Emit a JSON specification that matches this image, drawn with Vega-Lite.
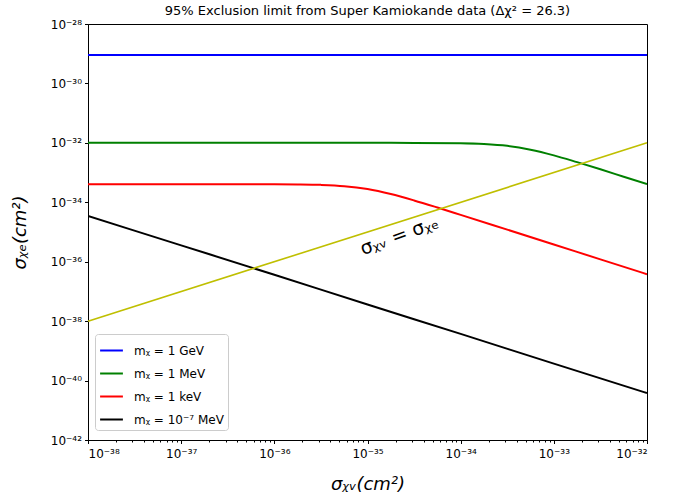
{
  "$schema": "https://vega.github.io/schema/vega-lite/v6.json",
  "width": 559,
  "height": 416,
  "autosize": {"type": "none"},
  "padding": {"left": 88, "top": 24, "right": 43, "bottom": 59},
  "background": "white",
  "title": {"text": "95% Exclusion limit from Super Kamiokande data (Δχ² = 26.3)", "font": "DejaVu Sans", "fontSize": 13, "fontWeight": "normal", "color": "black", "offset": 0},
  "config": {
    "view": {"stroke": "black", "strokeWidth": 1},
    "axis": {"grid": false, "domainColor": "black", "tickColor": "black", "labelColor": "black", "labelFont": "DejaVu Sans", "labelFontSize": 12, "titleFont": "DejaVu Sans", "titleColor": "black", "titleFontWeight": "normal", "titleFontStyle": "italic", "titleFontSize": 18, "tickSize": 3.5}
  },
  "datasets": {
    "curves": [
      {"series": "GeV", "x": 1e-38, "y": 9.1e-30},
      {"series": "GeV", "x": 1e-32, "y": 9.1e-30},
      {"series": "MeV", "x": 1e-38, "y": 1e-32},
      {"series": "MeV", "x": 1e-35, "y": 1e-32},
      {"series": "MeV", "x": 3.162e-35, "y": 9.97e-33},
      {"series": "MeV", "x": 1e-34, "y": 9.70e-33},
      {"series": "MeV", "x": 1.778e-34, "y": 9.16e-33},
      {"series": "MeV", "x": 3.162e-34, "y": 7.94e-33},
      {"series": "MeV", "x": 5.623e-34, "y": 5.89e-33},
      {"series": "MeV", "x": 1e-33, "y": 3.80e-33},
      {"series": "MeV", "x": 1.778e-33, "y": 2.24e-33},
      {"series": "MeV", "x": 3.162e-33, "y": 1.29e-33},
      {"series": "MeV", "x": 5.623e-33, "y": 7.24e-34},
      {"series": "MeV", "x": 1e-32, "y": 4.07e-34},
      {"series": "keV", "x": 1e-38, "y": 4.07e-34},
      {"series": "keV", "x": 3.162e-37, "y": 4.07e-34},
      {"series": "keV", "x": 1e-36, "y": 4.05e-34},
      {"series": "keV", "x": 1.778e-36, "y": 4.00e-34},
      {"series": "keV", "x": 3.162e-36, "y": 3.855e-34},
      {"series": "keV", "x": 5.623e-36, "y": 3.49e-34},
      {"series": "keV", "x": 1e-35, "y": 2.78e-34},
      {"series": "keV", "x": 1.778e-35, "y": 1.89e-34},
      {"series": "keV", "x": 3.162e-35, "y": 1.153e-34},
      {"series": "keV", "x": 5.623e-35, "y": 6.67e-35},
      {"series": "keV", "x": 1e-34, "y": 3.78e-35},
      {"series": "keV", "x": 3.162e-34, "y": 1.20e-35},
      {"series": "keV", "x": 1e-33, "y": 3.80e-36},
      {"series": "keV", "x": 3.162e-33, "y": 1.20e-36},
      {"series": "keV", "x": 1e-32, "y": 3.80e-37},
      {"series": "low", "x": 1e-38, "y": 3.47e-35},
      {"series": "low", "x": 1e-37, "y": 3.55e-36},
      {"series": "low", "x": 1e-36, "y": 3.63e-37},
      {"series": "low", "x": 1e-35, "y": 3.63e-38},
      {"series": "low", "x": 1e-34, "y": 3.72e-39},
      {"series": "low", "x": 1e-33, "y": 3.72e-40},
      {"series": "low", "x": 1e-32, "y": 3.80e-41}
    ],
    "diag": [
      {"x": 1e-38, "y": 1e-38},
      {"x": 1e-32, "y": 1e-32}
    ]
  },
  "layer": [
    {
      "data": {"name": "curves"},
      "mark": {"type": "line", "strokeWidth": 2, "interpolate": "monotone", "clip": true},
      "encoding": {
        "x": {"field": "x", "type": "quantitative",
          "scale": {"type": "log", "domain": [1e-38, 1e-32], "nice": false},
          "axis": {
            "title": "σᵪᵥ(cm²)",
            "titlePadding": 16,
            "labelPadding": 5,
            "values": [1e-38,2e-38,3e-38,4e-38,5e-38,6e-38,7e-38,8e-38,9e-38,1e-37,2e-37,3e-37,4e-37,5e-37,6e-37,7e-37,8e-37,9e-37,1e-36,2e-36,3e-36,4e-36,5e-36,6e-36,7e-36,8e-36,9e-36,1e-35,2e-35,3e-35,4e-35,5e-35,6e-35,7e-35,8e-35,9e-35,1e-34,2e-34,3e-34,4e-34,5e-34,6e-34,7e-34,8e-34,9e-34,1e-33,2e-33,3e-33,4e-33,5e-33,6e-33,7e-33,8e-33,9e-33,1e-32],
            "tickSize": {"condition": {"test": "abs(log(datum.value)/LN10 - round(log(datum.value)/LN10)) < 0.001", "value": 3.5}, "value": 2},
            "labelExpr": "abs(log(datum.value)/LN10 - round(log(datum.value)/LN10)) < 0.001 ? '10⁻' + substring('⁰¹²³⁴⁵⁶⁷⁸⁹', floor(-round(log(datum.value)/LN10)/10), floor(-round(log(datum.value)/LN10)/10)+1) + substring('⁰¹²³⁴⁵⁶⁷⁸⁹', (-round(log(datum.value)/LN10))%10, (-round(log(datum.value)/LN10))%10+1) : ''"
          }
        },
        "y": {"field": "y", "type": "quantitative",
          "scale": {"type": "log", "domain": [1e-42, 1e-28], "nice": false},
          "axis": {
            "title": "σᵪₑ(cm²)",
            "titlePadding": 21,
            "labelPadding": 3,
            "values": [1e-42,1e-40,1e-38,1e-36,1e-34,1e-32,1e-30,1e-28],
            "labelExpr": "'10⁻' + substring('⁰¹²³⁴⁵⁶⁷⁸⁹', floor(-round(log(datum.value)/LN10)/10), floor(-round(log(datum.value)/LN10)/10)+1) + substring('⁰¹²³⁴⁵⁶⁷⁸⁹', (-round(log(datum.value)/LN10))%10, (-round(log(datum.value)/LN10))%10+1)"
          }
        },
        "color": {"field": "series", "type": "nominal",
          "scale": {"domain": ["GeV", "MeV", "keV", "low"], "range": ["#0000ff", "#008000", "#ff0000", "#000000"]},
          "legend": {
            "title": null,
            "orient": "none",
            "legendX": 7,
            "legendY": 310,
            "symbolType": "stroke",
            "symbolSize": 520,
            "symbolStrokeWidth": 2,
            "labelFont": "DejaVu Sans",
            "labelFontSize": 12,
            "labelColor": "black",
            "labelOffset": 10,
            "rowPadding": 4,
            "padding": 4,
            "strokeColor": "#cccccc",
            "fillColor": "white",
            "cornerRadius": 3,
            "labelExpr": "datum.value == 'GeV' ? 'mᵪ = 1 GeV' : datum.value == 'MeV' ? 'mᵪ = 1 MeV' : datum.value == 'keV' ? 'mᵪ = 1 keV' : 'mᵪ = 10⁻⁷ MeV   '"
          }
        }
      }
    },
    {
      "data": {"name": "diag"},
      "mark": {"type": "line", "color": "#bfbf00", "strokeWidth": 1.6},
      "encoding": {
        "x": {"field": "x", "type": "quantitative"},
        "y": {"field": "y", "type": "quantitative"}
      }
    },
    {
      "data": {"values": [{"label": "σᵪᵥ = σᵪₑ", "x": 2.2e-35, "y": 7.5e-36}]},
      "mark": {"type": "text", "angle": 340, "font": "DejaVu Sans", "fontSize": 19, "color": "black"},
      "encoding": {
        "x": {"field": "x", "type": "quantitative"},
        "y": {"field": "y", "type": "quantitative"},
        "text": {"field": "label"}
      }
    }
  ]
}
